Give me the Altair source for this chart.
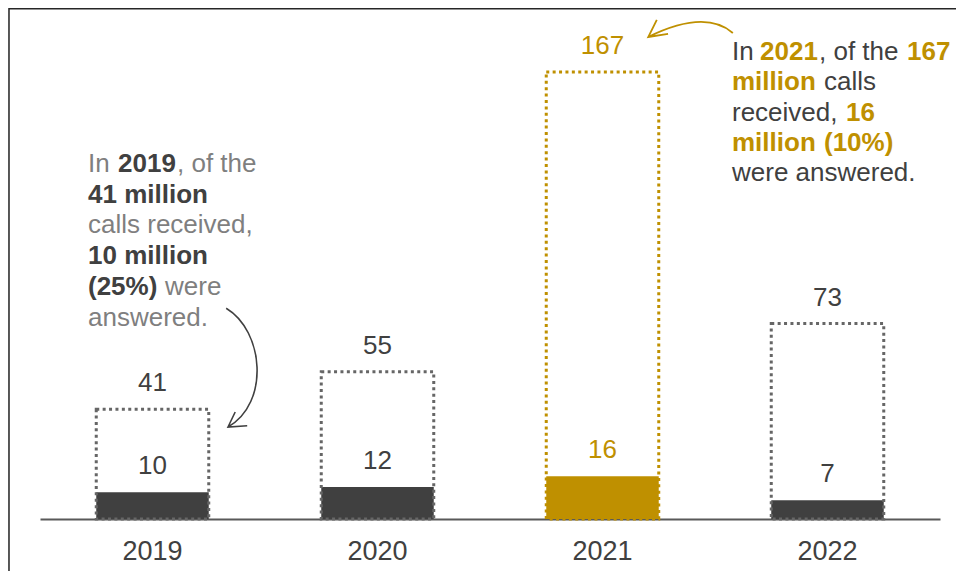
import altair as alt
import pandas as pd

# ---- data ----
years = ["2019", "2020", "2021", "2022"]
received = [41, 55, 167, 73]
answered = [10, 12, 16, 7]
highlight = ["no", "no", "yes", "no"]

# ---- annotation texts ----
left_text = ["In ", "2019", ", of the", "41 million", "calls received,", "10 million", "(25%)", "were", "answered."]
left_bold = [False, True, False, True, False, True, True, False, False]
left_line = [0, 0, 0, 1, 2, 3, 4, 4, 5]

right_text = ["In ", "2021", ", of the", "167", "million", "calls", "received,", "16", "million", "(10%)", "were answered."]
right_bold = [False, True, False, True, True, False, False, True, True, True, False]
right_line = [0, 0, 0, 0, 1, 1, 2, 2, 3, 3, 4]

# annotation layout (pixel positions of the text segments)
left_px = [88, 118, 177, 88, 88, 88, 88, 165, 88]
left_top, left_step = 164, 30.7
right_px = [732, 760, 819, 907, 732, 824, 732, 846, 732, 824, 732]
right_top, right_step = 52, 30.3

GOLD = "#BF9000"
DARK = "#404040"
GREY = "#7F7F7F"
FONT = "Liberation Sans"
W, H = 948, 563
OFF = 8

df = pd.DataFrame({"year": years, "received": received, "answered": answered, "hl": highlight})

x_axis = alt.Axis(orient="bottom", offset=-52, domainColor="#595959", domainWidth=2, ticks=False,
                  tickSize=0, labelPadding=19, labelFontSize=27, labelColor=DARK, labelFont=FONT,
                  labelAngle=0, grid=False, title=None)
xs = alt.X("year:N", sort=years, title=None, axis=x_axis,
           scale=alt.Scale(range=[32, 932], paddingInner=0.5, paddingOuter=0.25))
yscale = alt.Scale(domain=[0, 167], range=[511, 64])
ys = alt.Y("received:Q", axis=None, scale=yscale)
ya = alt.Y("answered:Q", axis=None, scale=yscale)
col = alt.Color("hl:N", scale=alt.Scale(domain=["no", "yes"], range=[DARK, GOLD]), legend=None)
stroke_col = alt.Stroke("hl:N", scale=alt.Scale(domain=["no", "yes"], range=["#666666", GOLD]), legend=None)

base = alt.Chart(df)

ans_bars = base.mark_bar().encode(x=xs, y=ya, color=col)

rec_bars = base.mark_bar(fillOpacity=0, strokeWidth=3, strokeDash=[3, 3.4]).encode(
    x=xs, y=ys, stroke=stroke_col)

rec_text = base.mark_text(baseline="middle", dy=-26, fontSize=26, font=FONT).encode(
    x=xs, y=ys, text="received:Q", color=col)

ans_text = base.mark_text(baseline="middle", dy=-26, fontSize=26, font=FONT).encode(
    x=xs, y=ya, text="answered:Q", color=col)

bars = alt.layer(ans_bars, rec_bars, rec_text, ans_text)


def ann(texts, bolds, lines, pxs, top, step, normal_col, bold_col):
    d = pd.DataFrame({"t": texts, "b": bolds,
                      "px": [p - OFF for p in pxs],
                      "py": [top + step * l - OFF for l in lines]})
    layers = []
    for b, c in [(False, normal_col), (True, bold_col)]:
        sub = d[d["b"] == b]
        layers.append(alt.Chart(sub).mark_text(
            align="left", baseline="middle", fontSize=26, font=FONT,
            fontWeight="bold" if b else "normal", color=c).encode(
            x=alt.X("px:Q", scale=None, axis=None),
            y=alt.Y("py:Q", scale=None, axis=None),
            text="t:N"))
    return layers


one = pd.DataFrame({"k": [0]})
arrow_left = alt.Chart(one).mark_point(
    shape="M-0.28,-0.98 C0.35,-0.6 0.45,0.6 -0.25,1 M-0.13,0.75 L-0.25,1 L0.07,0.98",
    filled=False, stroke=DARK, strokeWidth=1.6, size=14400, opacity=1).encode(
    x=alt.value(243 - OFF), y=alt.value(367 - OFF))
arrow_right = alt.Chart(one).mark_point(
    shape="M0.93,0.11 Q0.31,-0.42 -0.95,0.2 M-0.76,-0.18 L-0.95,0.2 L-0.51,0.13",
    filled=False, stroke=GOLD, strokeWidth=1.8, size=8100, opacity=1).encode(
    x=alt.value(691 - OFF), y=alt.value(28 - OFF))

frame_left = alt.Chart(one).mark_rule(color="#262626", strokeWidth=1.5).encode(
    x=alt.value(1), y=alt.value(0), y2=alt.value(H))
frame_top = alt.Chart(one).mark_rule(color="#262626", strokeWidth=1.5).encode(
    x=alt.value(1), x2=alt.value(W), y=alt.value(0.75))

deco = alt.layer(*(ann(left_text, left_bold, left_line, left_px, left_top, left_step, GREY, DARK)
                   + ann(right_text, right_bold, right_line, right_px, right_top, right_step, DARK, GOLD)
                   + [arrow_left, arrow_right, frame_left, frame_top]))

chart = alt.layer(bars, deco).resolve_scale(x="independent", y="independent").properties(
    width=W, height=H, padding=0, autosize=alt.AutoSizeParams(type="none")
).configure_view(stroke=None).configure(background="white")

chart.save("out.html", embed_options={"renderer": "svg", "actions": False})
